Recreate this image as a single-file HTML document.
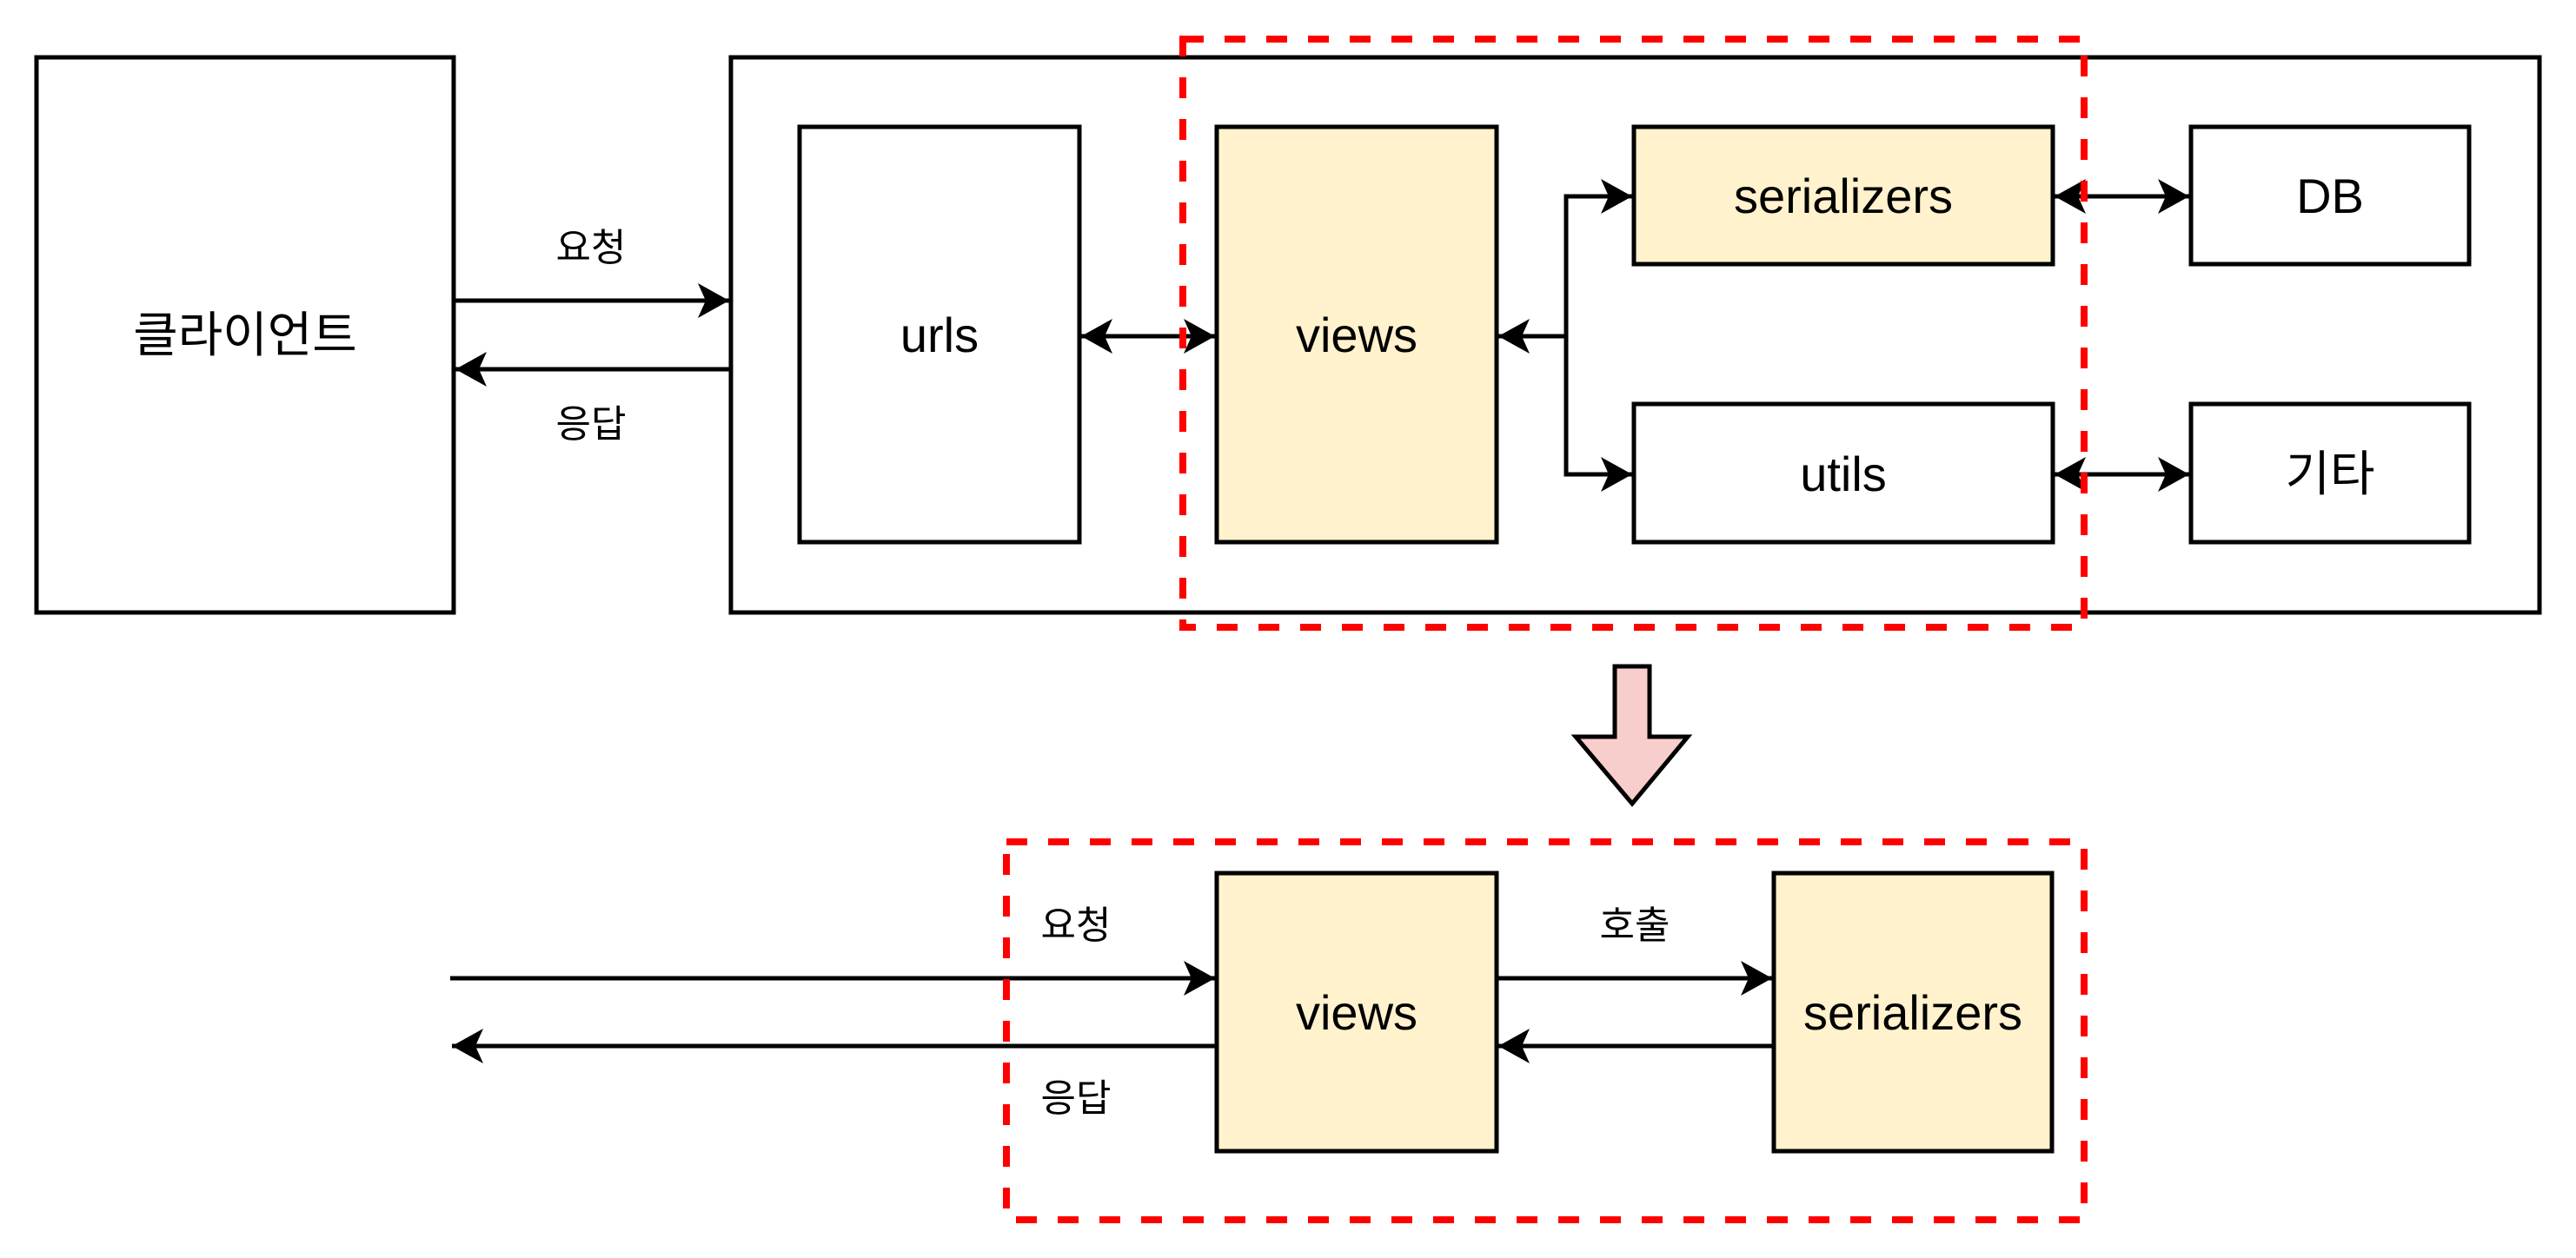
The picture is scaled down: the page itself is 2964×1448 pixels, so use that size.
<!DOCTYPE html>
<html><head><meta charset="utf-8"><style>html,body{margin:0;padding:0;background:#fff}svg{display:block}</style></head>
<body>
<svg width="2964" height="1448" viewBox="0 0 2964 1448" xmlns="http://www.w3.org/2000/svg" font-family="'Liberation Sans','Noto Sans CJK KR',sans-serif">
<defs>
<marker id="a" viewBox="0 0 40 40" markerWidth="40" markerHeight="40" refX="36" refY="20" orient="auto-start-reverse" markerUnits="userSpaceOnUse">
<path d="M0,0 L36,20 L0,40 L9,20 Z" fill="#000"/>
</marker>
</defs>
<g stroke="#000" stroke-width="5" fill="#fff">
<rect x="42" y="66" width="480" height="639"/>
<rect x="841" y="66" width="2081" height="639"/>
<rect x="920" y="146" width="322" height="478"/>
<rect x="1400" y="146" width="322" height="478" fill="#fff2cc"/>
<rect x="1880" y="146" width="482" height="158" fill="#fff2cc"/>
<rect x="1880" y="465" width="482" height="159"/>
<rect x="2521" y="146" width="320" height="158"/>
<rect x="2521" y="465" width="320" height="159"/>
<rect x="1400" y="1005" width="322" height="320" fill="#fff2cc"/>
<rect x="2041" y="1005" width="320" height="320" fill="#fff2cc"/>
</g>
<g stroke="#000" stroke-width="5" fill="none">
<line x1="522" y1="346" x2="839" y2="346" marker-end="url(#a)"/>
<line x1="841" y1="425" x2="524" y2="425" marker-end="url(#a)"/>
<line x1="1244" y1="387" x2="1398" y2="387" marker-start="url(#a)" marker-end="url(#a)"/>
<polyline points="1802,387 1724,387" marker-end="url(#a)"/>
<polyline points="1802,387 1802,226 1878,226" marker-end="url(#a)"/>
<polyline points="1802,387 1802,546 1878,546" marker-end="url(#a)"/>
<line x1="2364" y1="226" x2="2519" y2="226" marker-start="url(#a)" marker-end="url(#a)"/>
<line x1="2364" y1="546" x2="2519" y2="546" marker-start="url(#a)" marker-end="url(#a)"/>
<line x1="518" y1="1126" x2="1398" y2="1126" marker-end="url(#a)"/>
<line x1="1400" y1="1204" x2="520" y2="1204" marker-end="url(#a)"/>
<line x1="1722" y1="1126" x2="2039" y2="1126" marker-end="url(#a)"/>
<line x1="2041" y1="1204" x2="1724" y2="1204" marker-end="url(#a)"/>
</g>
<g stroke="#ff0000" stroke-width="8" fill="none" stroke-dasharray="24 24">
<rect x="1361" y="45" width="1037" height="677"/>
<rect x="1158" y="969" width="1240" height="435"/>
</g>
<path d="M1858,767 L1898,767 L1898,848 L1942,848 L1878,925 L1813,848 L1858,848 Z" fill="#f8cecc" stroke="#000" stroke-width="5"/>
<g font-size="56" text-anchor="middle" fill="#000">
<text x="282" y="405">클라이언트</text>
<text x="1081" y="405">urls</text>
<text x="1561" y="405">views</text>
<text x="2121" y="245">serializers</text>
<text x="2121" y="565">utils</text>
<text x="2681" y="245">DB</text>
<text x="2681" y="565">기타</text>
<text x="1561" y="1185">views</text>
<text x="2201" y="1185">serializers</text>
</g>
<g font-size="44" text-anchor="middle" fill="#000">
<text x="680" y="300">요청</text>
<text x="680" y="503">응답</text>
<text x="1238" y="1080">요청</text>
<text x="1238" y="1279">응답</text>
<text x="1881" y="1080">호출</text>
</g>
</svg>
</body></html>
